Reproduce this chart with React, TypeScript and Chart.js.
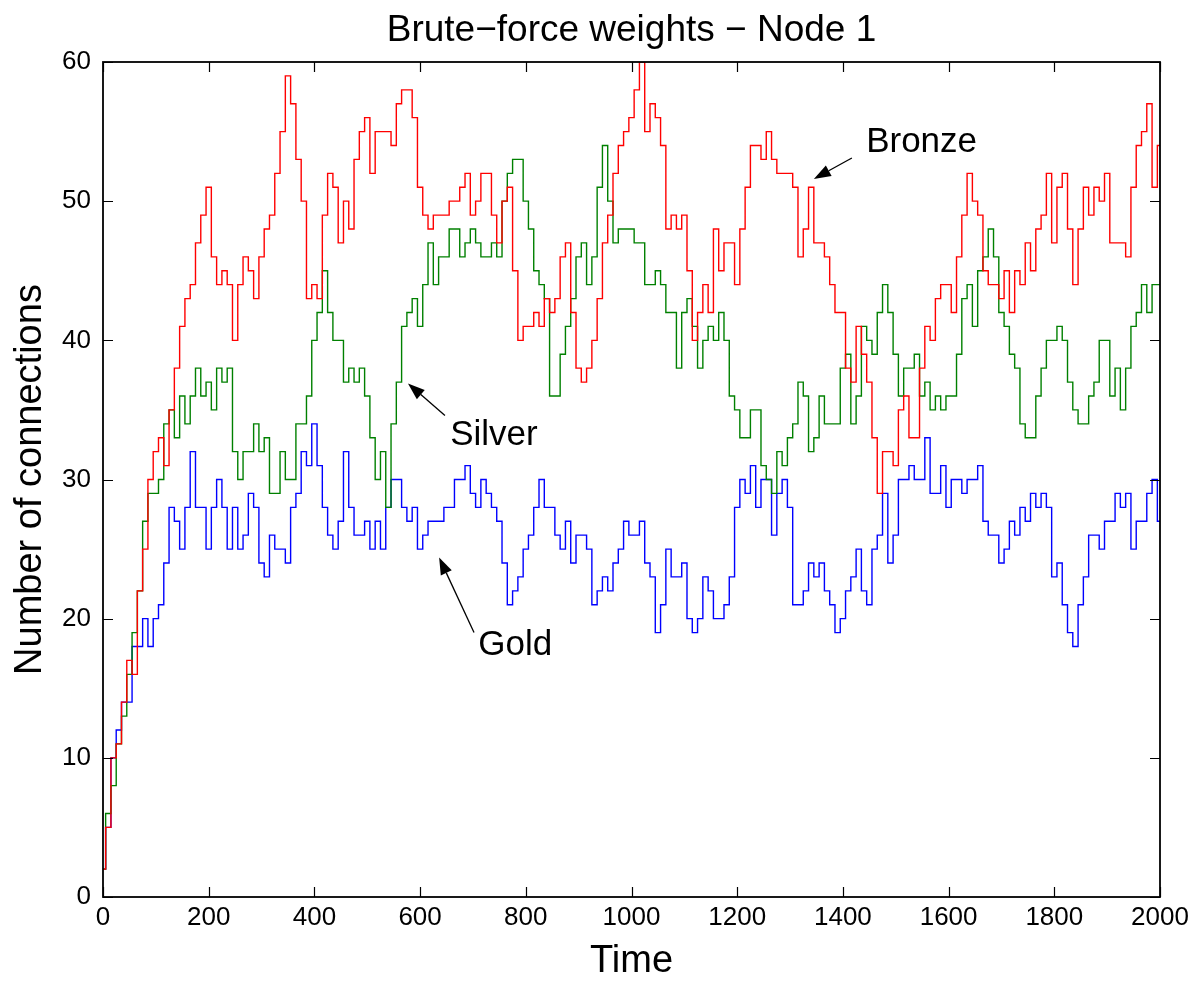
import React, { useEffect, useRef } from "react";
import { Chart, registerables } from "chart.js";

Chart.register(...registerables);

// ---------------- data ----------------
const TIME_STEP = 10; // samples every 10 time units, t = 0 .. 2000
const X_TICKS = [0, 200, 400, 600, 800, 1000, 1200, 1400, 1600, 1800, 2000];
const Y_TICKS = [0, 10, 20, 30, 40, 50, 60];

const TITLE = "Brute\u2212force weights \u2212 Node 1";
const X_LABEL = "Time";
const Y_LABEL = "Number of connections";

const BRONZE = [
  2, 5, 10, 11, 14, 17, 16, 22, 25, 30,
  32, 33, 31, 35, 38, 41, 43, 44, 47, 49,
  51, 46, 44, 45, 44, 40, 44, 46, 45, 43,
  46, 48, 49, 52, 55, 59, 57, 53, 50, 43,
  44, 43, 49, 52, 51, 47, 50, 48, 53, 55,
  56, 52, 55, 55, 55, 54, 57, 58, 58, 56,
  51, 49, 48, 49, 49, 49, 50, 50, 51, 52,
  49, 50, 52, 52, 49, 47, 50, 51, 45, 40,
  41, 41, 42, 41, 43, 42, 43, 46, 47, 42,
  38, 37, 38, 40, 43, 47, 49, 52, 54, 55,
  56, 58, 60, 55, 57, 56, 54, 48, 49, 48,
  49, 45, 40, 42, 44, 42, 48, 45, 47, 47,
  44, 48, 51, 54, 54, 53, 55, 53, 52, 52,
  52, 51, 46, 48, 51, 47, 47, 46, 44, 42,
  42, 38, 37, 41, 39, 37, 33, 29, 32, 32,
  31, 35, 36, 33, 33, 38, 41, 40, 43, 44,
  44, 42, 46, 49, 52, 50, 49, 45, 44, 44,
  43, 45, 42, 45, 44, 47, 45, 48, 49, 52,
  47, 51, 52, 48, 44, 48, 51, 49, 51, 50,
  52, 47, 47, 47, 46, 51, 54, 55, 57, 51,
  54,
];

const SILVER = [
  2, 6, 8, 11, 13, 16, 19, 22, 27, 29,
  29, 30, 34, 35, 33, 36, 34, 36, 38, 36,
  37, 35, 38, 37, 38, 32, 30, 32, 32, 34,
  32, 33, 29, 29, 32, 30, 30, 34, 34, 36,
  40, 42, 45, 42, 40, 40, 37, 38, 37, 38,
  36, 33, 30, 32, 28, 34, 37, 41, 42, 43,
  41, 44, 47, 44, 46, 46, 48, 48, 46, 47,
  48, 47, 46, 46, 47, 46, 50, 52, 53, 53,
  50, 48, 45, 44, 43, 36, 36, 39, 41, 43,
  46, 47, 44, 46, 51, 54, 50, 47, 48, 48,
  48, 47, 47, 44, 44, 45, 44, 42, 42, 38,
  42, 43, 41, 38, 40, 41, 40, 42, 40, 36,
  35, 33, 33, 35, 35, 31, 30, 29, 32, 31,
  33, 34, 37, 36, 32, 33, 36, 34, 34, 34,
  38, 39, 34, 36, 41, 40, 39, 42, 44, 42,
  39, 36, 38, 38, 39, 36, 37, 35, 36, 35,
  36, 36, 39, 43, 44, 41, 45, 46, 48, 46,
  42, 41, 39, 38, 34, 33, 33, 36, 38, 40,
  40, 41, 40, 37, 35, 34, 34, 36, 37, 40,
  40, 36, 38, 35, 38, 41, 42, 44, 42, 44,
  44,
];

const GOLD = [
  2, 5, 10, 12, 14, 14, 18, 18, 20, 18,
  20, 21, 24, 28, 27, 25, 28, 32, 28, 28,
  25, 28, 30, 28, 25, 28, 25, 26, 29, 28,
  24, 23, 26, 25, 25, 24, 28, 29, 32, 31,
  34, 31, 28, 26, 25, 27, 32, 28, 26, 26,
  27, 25, 27, 25, 28, 30, 30, 28, 27, 28,
  25, 26, 27, 27, 27, 28, 28, 30, 30, 31,
  29, 28, 30, 29, 28, 27, 24, 21, 22, 23,
  25, 26, 28, 30, 28, 28, 26, 25, 27, 24,
  26, 26, 25, 21, 22, 23, 22, 24, 25, 27,
  26, 26, 27, 24, 23, 19, 21, 25, 23, 23,
  24, 20, 19, 20, 23, 22, 20, 20, 21, 23,
  28, 30, 29, 31, 28, 30, 30, 26, 29, 30,
  28, 21, 21, 22, 24, 23, 24, 22, 21, 19,
  20, 22, 23, 25, 22, 21, 25, 26, 29, 24,
  26, 30, 30, 31, 30, 30, 33, 29, 29, 31,
  28, 30, 30, 29, 30, 30, 31, 27, 26, 26,
  24, 25, 27, 26, 28, 27, 29, 28, 29, 28,
  23, 24, 21, 19, 18, 21, 23, 26, 26, 25,
  27, 27, 29, 28, 29, 25, 27, 27, 29, 30,
  27,
];

// annotation anchors in data units [time, connections]
const NOTE_LABELS = ["Bronze", "Silver", "Gold"];
const NOTE_TIPS = [[1345, 51.6], [577, 36.9], [636, 24.4]];
const NOTE_TAILS = [[1417, 53.1], [647, 34.6], [702, 19.0]];
const NOTE_TEXT_AT = [[1444, 54.2], [657, 33.2], [710, 18.1]];

// ---------------- styles ----------------
const FONT = "'Liberation Sans', Arial, Helvetica, sans-serif";
const COLORS = { bronze: "#ff0000", silver: "#008000", gold: "#0000ff" };

const toPoints = (vals: number[]) => vals.map((v, i) => ({ x: i * TIME_STEP, y: v }));

const matlabPlugin = {
  id: "matlabFrame",
  afterDatasetsDraw(chart: any) {
    const { ctx, chartArea, scales } = chart;
    const { left, right, top, bottom } = chartArea;
    const xs = scales.x;
    const ys = scales.y;
    ctx.save();
    // inward ticks on all sides
    ctx.strokeStyle = "#000";
    ctx.lineWidth = 1.2;
    const L = 10;
    ctx.beginPath();
    X_TICKS.forEach((t) => {
      const px = Math.round(xs.getPixelForValue(t)) + 0.5;
      ctx.moveTo(px, bottom);
      ctx.lineTo(px, bottom - L);
      ctx.moveTo(px, top);
      ctx.lineTo(px, top + L);
    });
    Y_TICKS.forEach((v) => {
      const py = Math.round(ys.getPixelForValue(v)) + 0.5;
      ctx.moveTo(left, py);
      ctx.lineTo(left + L, py);
      ctx.moveTo(right, py);
      ctx.lineTo(right - L, py);
    });
    ctx.stroke();
    // frame
    ctx.lineWidth = 1.8;
    ctx.strokeRect(left, top, right - left, bottom - top);

    // annotations
    ctx.fillStyle = "#000";
    ctx.strokeStyle = "#000";
    ctx.font = `35px ${FONT}`;
    ctx.textAlign = "left";
    ctx.textBaseline = "middle";
    NOTE_LABELS.forEach((label, i) => {
      const tx = xs.getPixelForValue(NOTE_TIPS[i][0]);
      const ty = ys.getPixelForValue(NOTE_TIPS[i][1]);
      const sx = xs.getPixelForValue(NOTE_TAILS[i][0]);
      const sy = ys.getPixelForValue(NOTE_TAILS[i][1]);
      const ang = Math.atan2(ty - sy, tx - sx);
      const len = 17;
      const w = 6;
      const bx = tx - len * Math.cos(ang);
      const by = ty - len * Math.sin(ang);
      ctx.lineWidth = 1.3;
      ctx.beginPath();
      ctx.moveTo(sx, sy);
      ctx.lineTo(bx, by);
      ctx.stroke();
      ctx.beginPath();
      ctx.moveTo(tx, ty);
      ctx.lineTo(bx + w * Math.sin(ang), by - w * Math.cos(ang));
      ctx.lineTo(bx - w * Math.sin(ang), by + w * Math.cos(ang));
      ctx.closePath();
      ctx.fill();
      ctx.fillText(
        label,
        xs.getPixelForValue(NOTE_TEXT_AT[i][0]),
        ys.getPixelForValue(NOTE_TEXT_AT[i][1])
      );
    });
    ctx.restore();
  },
};

export default function App() {
  const canvasRef = useRef<HTMLCanvasElement | null>(null);

  useEffect(() => {
    document.body.style.margin = "0";
    const canvas = canvasRef.current;
    if (!canvas) return;
    const lineDs = (label: string, vals: number[], color: string) => ({
      label,
      data: toPoints(vals),
      borderColor: color,
      backgroundColor: color,
      borderWidth: 1.4,
      pointRadius: 0,
      stepped: "middle" as const,
      fill: false,
    });
    const chart = new Chart(canvas, {
      type: "line",
      data: {
        datasets: [
          lineDs("Bronze", BRONZE, COLORS.bronze),
          lineDs("Silver", SILVER, COLORS.silver),
          lineDs("Gold", GOLD, COLORS.gold),
        ],
      },
      options: {
        animation: false,
        responsive: false,
        devicePixelRatio: 1,
        events: [],
        layout: { padding: { top: 1, right: 44, bottom: 0, left: 0 } },
        plugins: {
          legend: { display: false },
          tooltip: { enabled: false },
          title: {
            display: true,
            fullSize: false,
            text: TITLE,
            color: "#000",
            font: { family: FONT, size: 37, weight: "normal", lineHeight: 1.2 },
            padding: { top: 8, bottom: 8.6 },
          },
        },
        scales: {
          x: {
            type: "linear",
            min: 0,
            max: 2000,
            afterBuildTicks: (s: any) => {
              s.ticks = X_TICKS.map((v) => ({ value: v }));
            },
            afterFit: (s: any) => {
              s.height = 84;
            },
            grid: { display: false, drawTicks: false },
            border: { display: false },
            ticks: {
              color: "#000",
              font: { family: FONT, size: 26 },
              padding: 5,
              maxRotation: 0,
              autoSkip: false,
              callback: (v: any) => String(v),
            },
            title: {
              display: true,
              text: X_LABEL,
              color: "#000",
              font: { family: FONT, size: 38, lineHeight: 1.0 },
              padding: { top: 0, bottom: 0 },
            },
          },
          y: {
            type: "linear",
            min: 0,
            max: 60,
            afterBuildTicks: (s: any) => {
              s.ticks = Y_TICKS.map((v) => ({ value: v }));
            },
            afterFit: (s: any) => {
              s.width = 103;
            },
            grid: { display: false, drawTicks: false },
            border: { display: false },
            ticks: {
              color: "#000",
              font: { family: FONT, size: 26 },
              padding: 12,
              autoSkip: false,
              callback: (v: any) => String(v),
            },
            title: {
              display: true,
              text: Y_LABEL,
              color: "#000",
              font: { family: FONT, size: 38, lineHeight: 1.0 },
              padding: { top: 12, bottom: 0 },
            },
          },
        },
      },
      plugins: [matlabPlugin],
    });
    return () => chart.destroy();
  }, []);

  return (
    <div style={{ width: 1204, height: 981, background: "#fff" }}>
      <canvas ref={canvasRef} width={1204} height={981} style={{ display: "block" }} />
    </div>
  );
}
